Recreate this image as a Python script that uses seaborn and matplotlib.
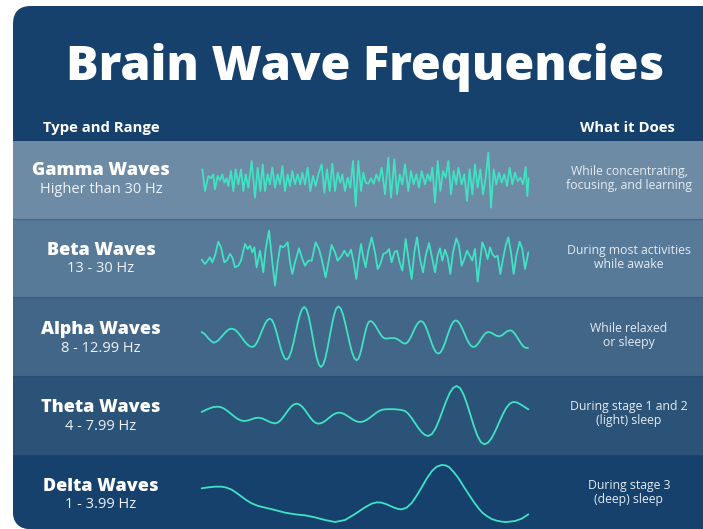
import matplotlib
matplotlib.use("Agg")
import matplotlib.pyplot as plt
from matplotlib.patches import FancyBboxPatch, Rectangle
import seaborn as sns

sns.set_style("white")
FAMILY = ["Open Sans", "DejaVu Sans"]
plt.rcParams["font.family"] = FAMILY

W, H = 703, 529

# ---------------- text content ----------------
title = "Brain Wave Frequencies"
col_left = "Type and Range"
col_right = "What it Does"
wave_names = ["Gamma Waves", "Beta Waves", "Alpha Waves", "Theta Waves", "Delta Waves"]
wave_ranges = ["Higher than 30 Hz", "13 - 30 Hz", "8 - 12.99 Hz", "4 - 7.99 Hz", "1 - 3.99 Hz"]
wave_roles = [["While concentrating,", "focusing, and learning"],
              ["During most activities", "while awake"],
              ["While relaxed", "or sleepy"],
              ["During stage 1 and 2", "(light) sleep"],
              ["During stage 3", "(deep) sleep"]]

# ---------------- wave traces (time, amplitude) ----------------
gamma_t = [22, 30, 40, 48, 55, 60, 68, 75, 82, 88, 95, 100, 108, 115, 122, 130, 138, 145, 152, 160,
           170, 180, 188, 196, 203, 210, 218, 225, 232, 240, 248, 255, 262, 270, 278, 285, 292, 300,
           308, 316, 322, 330, 338, 346, 354, 362, 370, 380, 388, 396, 404, 412, 420, 428, 436, 442,
           450, 458, 466, 474, 482, 490, 498, 505, 512, 520, 528, 536, 544, 552, 560, 570, 580, 588,
           598, 606, 614, 622, 630, 640, 648, 656, 664, 672, 680, 690, 698, 706, 712, 720, 728, 736,
           744, 752, 760, 768, 776, 784, 790, 800, 808, 816, 824, 832, 840, 848, 856, 864, 872, 880,
           888, 896, 904, 912, 920, 928, 936, 944, 952, 960, 968, 976, 984, 992, 997, 1001]
gamma_v = [29, -36, 9, 2, 14, -31, 9, -4, 14, -11, 2, -21, 24, -36, 29, -16, 29, -36, 14, -26,
           54, -56, 34, -36, 44, -36, 14, -16, 34, -26, 14, -16, 39, -36, 14, -21, 24, -16,
           14, -16, 19, -16, 34, -36, 9, -21, 14, 44, -41, 29, -36, 46, -36, 19, -11, 14,
           -36, 4, -26, 54, -81, 54, -36, 19, -11, -14, 2, -14, 14, -6, 34, -46, 64, -56,
           59, -46, 14, -16, 44, -36, 24, -16, 14, -26, 24, -16, 14, -6, 34, -71, 54, -36,
           24, 4, 54, -46, 24, -16, 34, -16, 14, -66, 29, -46, 44, -26, 29, -46, 4, 79,
           -86, 29, -16, 19, -11, 14, -21, 34, -16, 19, -6, 4, -16, 36, -51, 2]

beta_t = [20, 30, 38, 45, 52, 60, 70, 78, 88, 95, 105, 112, 120, 130, 138, 150, 158, 165, 172, 178,
          185, 195, 205, 212, 222, 232, 240, 248, 256, 264, 270, 278, 285, 292, 300, 312, 322, 330,
          340, 350, 362, 372, 380, 392, 402, 410, 420, 428, 440, 448, 458, 468, 476, 484, 490, 498,
          505, 512, 520, 530, 540, 548, 556, 565, 575, 582, 590, 598, 606, 614, 622, 632, 642, 650,
          658, 666, 675, 684, 692, 702, 712, 720, 728, 735, 742, 750, 758, 766, 774, 784, 792, 800,
          808, 816, 824, 832, 840, 848, 856, 862, 870, 878, 885, 892, 900, 908, 916, 924, 932, 940,
          948, 956, 964, 974, 982, 990, 1000]
beta_v = [-8, -21, -11, -1, -16, 4, 46, 29, -16, -11, 9, -1, -31, -26, -11, 39, 24, 34, 14, 29,
          -31, 19, -46, 24, 79, -16, -86, -16, 34, 29, 34, 44, -16, -51, -16, 26, -6, -26,
          -11, -11, 44, 24, -6, -61, -6, 36, 14, -11, 4, 19, 2, 22, -16, -66, -16, 39,
          -1, -31, 19, 59, 14, -36, -21, 9, 14, 24, -16, 14, 19, -16, -41, 54, -16, -66,
          14, 59, -6, -46, 4, 42, -6, -46, 4, 26, -11, 22, -1, -51, 14, 56, 34, -26,
          -6, 19, 4, -11, 24, -74, -6, 44, 24, -6, 29, 9, -1, 4, -51, -6, 34, 59,
          14, -51, 4, 46, 24, -36, 14]

alpha_t = [20, 30, 40, 48, 55,
           61.9, 68.75, 75.6, 82.5, 89.4, 96.25, 103.1, 110,
           117.75, 125.5, 133.25, 141, 148.75, 156.5, 164.25, 172,
           178.6, 185.25, 191.9, 198.5, 205.1, 211.75, 218.4, 225,
           231.25, 237.5, 243.75, 250, 256.25, 262.5, 268.75, 275,
           281.6, 288.25, 294.9, 301.5, 308.1, 314.75, 321.4, 328,
           334.25, 340.5, 346.75, 353, 359.25, 365.5, 371.75, 378,
           384.5, 391, 397.5, 404, 410.5, 417, 423.5, 430,
           436.9, 443.75, 450.6, 457.5, 464.4, 471.25, 478.1, 485,
           490, 495, 500, 505, 510, 515, 520, 525,
           530.9, 536.75, 542.6, 548.5, 554.4, 560.25, 566.1, 572,
           585, 598, 606, 614, 622, 630,
           636, 642, 648, 654, 660, 666, 672, 678,
           684.5, 691, 697.5, 704, 710.5, 717, 723.5, 730,
           736.5, 743, 749.5, 756, 762.5, 769, 775.5, 782,
           788.6, 795.25, 801.9, 808.5, 815.1, 821.75, 828.4, 835,
           840.6, 846.25, 851.9, 857.5, 863.1, 868.75, 874.4, 880,
           888, 896, 904, 912, 920.25, 928.5, 936.75, 945,
           951.25, 957.5, 963.75, 970, 976.25, 982.5, 988.75, 995, 999]
alpha_v = [12, 5, -7, -15, -20,
           -18.4, -13.9, -7.0, 1, 9.0, 15.9, 20.4, 22,
           19.9, 14.0, 5.0, -5.5, -16.0, -25.0, -30.9, -33,
           -29.8, -20.6, -6.7, 9.5, 25.7, 39.6, 48.8, 52,
           47.3, 34.0, 14.0, -9.5, -33.0, -53.0, -66.3, -71,
           -65.0, -47.9, -22.2, 8, 38.2, 63.9, 81.0, 87,
           80.2, 60.7, 31.4, -3, -37.4, -66.7, -86.2, -93,
           -86.1, -66.4, -36.8, -2, 32.8, 62.4, 82.1, 89,
           82.8, 65.3, 38.9, 8, -22.9, -49.3, -66.8, -73,
           -68.5, -55.8, -36.5, -14, 8.5, 27.8, 40.5, 45,
           43.0, 37.3, 28.6, 18.5, 8.4, -0.3, -6.0, -8,
           -6.5, -6, -9, -14, -20, -23,
           -20.4, -13.1, -2.0, 11, 24.0, 35.1, 42.4, 45,
           41.3, 30.7, 14.7, -4, -22.7, -38.7, -49.3, -53,
           -49.2, -38.4, -22.1, -3, 16.1, 32.4, 43.2, 47,
           44.0, 35.3, 22.3, 7, -8.3, -21.3, -30.0, -33,
           -31.3, -26.4, -19.1, -10.5, -1.9, 5.4, 10.3, 12,
           10.1, 5.5, 0.9, -1, 1.6, 8, 14.4, 17,
           15.0, 9.3, 0.6, -9.5, -19.6, -28.3, -34.0, -36, -35.5]

theta_t = [20, 32, 44, 56, 68,
           78, 88, 98, 108, 118, 128, 138, 148,
           158.5, 169, 179.5, 190, 202.5, 215, 227.5, 240,
           248.1, 256.25, 264.4, 272.5, 280.6, 288.75, 296.9, 305,
           313.1, 321.25, 329.4, 337.5, 345.6, 353.75, 361.9, 370,
           377.75, 385.5, 393.25, 401, 408.75, 416.5, 424.25, 432,
           439.9, 447.75, 455.6, 463.5, 471.4, 479.25, 487.1, 495,
           504.4, 513.75, 523.1, 532.5, 541.9, 551.25, 560.6, 570,
           582, 595, 608, 620,
           630, 640, 650, 660, 670, 680, 690, 700,
           710.6, 721.25, 731.9, 742.5, 753.1, 763.75, 774.4, 785,
           795.4, 805.75, 816.1, 826.5, 836.9, 847.25, 857.6, 868,
           878.9, 889.75, 900.6, 911.5, 922.4, 933.25, 944.1, 955,
           966, 978, 989, 1000]
theta_v = [9, 15, 20, 24, 25,
           23.4, 18.7, 11.7, 3.5, -4.7, -11.7, -16.4, -18,
           -16.5, -13, -9.5, -8, -10.5, -16.5, -22.5, -25,
           -22.8, -16.4, -6.8, 4.5, 15.8, 25.4, 31.8, 34,
           31.7, 25.2, 15.5, 4, -7.5, -17.2, -23.7, -26,
           -24.7, -21.2, -15.8, -9.5, -3.2, 2.2, 5.7, 7,
           5.9, 2.9, -1.7, -7, -12.3, -16.9, -19.9, -21,
           -19.6, -15.5, -9.3, -2, 5.3, 11.5, 15.6, 17,
           17.5, 17.5, 16.5, 15,
           12.0, 3.6, -9.1, -24, -38.9, -51.6, -60.0, -63,
           -57.3, -41.1, -16.6, 12, 40.6, 65.1, 81.3, 87,
           80.4, 61.4, 32.9, -0.5, -33.9, -62.4, -81.3, -88,
           -83.2, -69.5, -48.8, -24.5, -0.2, 20.5, 34.2, 39,
           37.5, 31, 24, 17]

delta_t = [20, 40, 60, 80, 95, 110, 125, 140, 155, 170, 190, 215, 240, 270, 300, 330, 360, 390,
           420, 450, 480, 510, 530, 545, 560, 575, 595, 610, 620, 635, 650, 665, 680, 695, 710,
           725, 740, 751, 762, 776, 790, 805, 820, 835, 850, 862, 875, 890, 905, 920, 935, 960,
           980, 1000]
delta_v = [11, 14, 16, 16, 13, 7, -3, -14, -25, -34, -42, -48, -54, -62, -67, -70, -76, -84,
           -90, -84, -66, -46, -35, -31, -32, -37, -46, -51, -52, -47, -33, -11, 14, 40, 62,
           76, 81, 80, 75, 60, 42, 18, -5, -28, -48, -62, -72, -81, -86, -89, -90, -87,
           -80, -67]

waves_t = [gamma_t, beta_t, alpha_t, theta_t, delta_t]
waves_v = [gamma_v, beta_v, alpha_v, theta_v, delta_v]

# ---------------- styling / layout ----------------
panel_color = "#15416C"
row_colors = ["#6E8BA5", "#577A99", "#426688", "#2B5378", "#15416C"]
row_tops = [141, 218.5, 296.5, 375.5, 454.5]
row_bots = [218.5, 296.5, 375.5, 454.5, 531]
wave_boxes = [(141, 76), (219, 76), (297, 78), (376, 78), (455, 74)]  # (top, height) in px
wave_color = "#3FE3C4"
name_base = [175, 255, 334, 412, 491]
range_base = [193, 272, 352, 430, 508]
role_base = [(175, 189), (254, 268), (332, 346), (410, 424), (489, 503)]

fig = plt.figure(figsize=(W / 100, H / 100), dpi=100)
fig.patch.set_facecolor("white")
ax0 = fig.add_axes([0, 0, 1, 1])
ax0.set_xlim(0, W)
ax0.set_ylim(H, 0)
ax0.axis("off")

panel = FancyBboxPatch((13, 6), 740, 523, boxstyle="round,pad=0,rounding_size=18",
                       facecolor=panel_color, edgecolor="none", zorder=1)
ax0.add_patch(panel)
for top, bot, c in zip(row_tops, row_bots, row_colors):
    r = Rectangle((13, top), W + 50, bot - top, facecolor=c, edgecolor="none", zorder=2)
    ax0.add_patch(r)
    r.set_clip_path(panel)
for y in row_tops[1:]:
    ax0.plot([13, W], [y, y], color="#1F4A74", alpha=0.35, lw=1, zorder=3)

renderer = fig.canvas.get_renderer()


def fit_size(s, target_px, weight):
    t = fig.text(0, 0, s, fontsize=10, fontweight=weight, family=FAMILY)
    w = t.get_window_extent(renderer).width
    t.remove()
    return 10 * target_px / w


fs_title = fit_size(title, 600, "heavy")
fs_head = fit_size(col_left, 117, "bold")
fs_name = fit_size(wave_names[0], 138, "heavy")
fs_range = fit_size(wave_ranges[0], 123, "normal")
fs_role = fit_size(wave_roles[0][1], 127, "normal")

ax0.text(365, 80, title, fontsize=fs_title, fontweight="heavy", color="white",
         ha="center", va="baseline", zorder=5)
ax0.text(43, 132, col_left, fontsize=fs_head, fontweight="bold", color="white",
         ha="left", va="baseline", zorder=5)
ax0.text(675, 132, col_right, fontsize=fs_head, fontweight="bold", color="white",
         ha="right", va="baseline", zorder=5)

for i in range(5):
    ax0.text(101, name_base[i], wave_names[i], fontsize=fs_name, fontweight="heavy",
             color="white", ha="center", va="baseline", zorder=5)
    ax0.text(101, range_base[i], wave_ranges[i], fontsize=fs_range, color="#EEF2F6",
             ha="center", va="baseline", zorder=5)
    for line, yb in zip(wave_roles[i], role_base[i]):
        ax0.text(629, yb, line, fontsize=fs_role, color="#E4EBF1",
                 ha="center", va="baseline", zorder=5)

for (top, h), t, v in zip(wave_boxes, waves_t, waves_v):
    ax = fig.add_axes([195 / W, 1 - (top + h) / H, 340 / W, h / H])
    ax.patch.set_alpha(0)
    sns.lineplot(x=t, y=v, ax=ax, color=wave_color, linewidth=1.3,
                 estimator=None, sort=False)
    ax.set_xlim(0, 1020)
    ax.set_ylim(-h * 1.5, h * 1.5)
    ax.axis("off")

fig.savefig("out.png", dpi=100, facecolor="white")
